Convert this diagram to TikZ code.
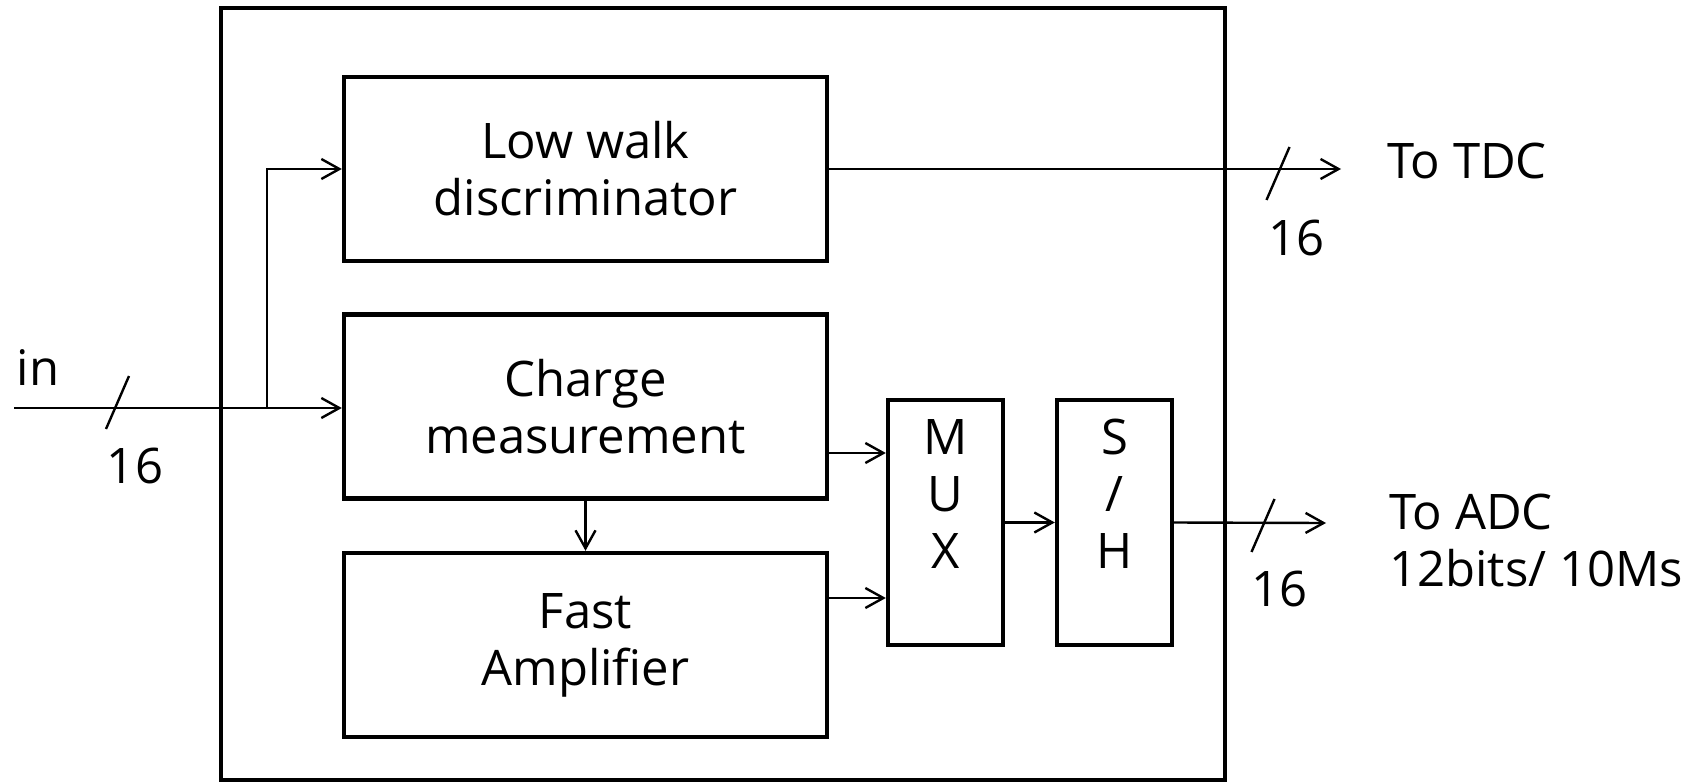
\documentclass[tikz,border=0pt]{standalone}
\usepackage{fontspec}
\setmainfont{Open Sans}
\usetikzlibrary{arrows.meta}
\begin{document}
\begin{tikzpicture}
  [x=0.5pt,y=-0.5pt,line width=1.2pt,>={Straight Barb[length=9pt,width=10pt]},
   every node/.style={inner sep=0pt,font=\fontsize{24.5}{28.5}\selectfont},
   block/.style={draw,line width=2.2pt,minimum width=241.5pt,minimum height=92pt,align=center},
   tall/.style={block,minimum width=57.5pt,minimum height=122.5pt}]
  \useasboundingbox (0,0) rectangle (1690,781);

  \node[block,minimum width=502pt,minimum height=386pt] (chip) at (723,394) {};
  \node[block] (lwd) at (585.5,169) {Low walk\\discriminator};
  \node[block] (qm) at (585.5,406.5) {Charge\\measurement};
  \node[block] (amp) at (585.5,645) {Fast\\Amplifier};
  \node[tall] (mux) at (945.5,522.5) {M\\U\\X\\\mbox{}};
  \node[tall] (sh) at (1114.5,522.5) {S\\/\\H\\\mbox{}};

  \coordinate (in) at (14,408);
  \coordinate (split) at (267,408);
  \coordinate (tdc) at (1341,169);
  \coordinate (adc) at (1326,523);
  \coordinate (m1) at (888,453);
  \coordinate (m2) at (888,598);

  \draw[->] (in) -- (in -| qm.west);
  \draw[->] (split) |- (lwd.west);
  \draw[->] (lwd.east) -- (tdc);
  \draw[->] (qm.east |- m1) -- (m1 -| mux.west);
  \draw[->] (amp.east |- m2) -- (m2 -| mux.west);
  \draw[->] (qm.south) -- (amp.north);
  \draw[->] (mux) -- (sh);
  \draw[->] (sh.east) -- (adc);

  \foreach \sx/\sy in {117.5/402.5, 1278/173.5, 1263/525.5}
    \draw (\sx-11.5,\sy+26.5) -- (\sx+11.5,\sy-26.5);

  \node (inlbl) at (38,368) {in};
  \node (w1) at (135,466) {16};
  \node (w2) at (1296,238) {16};
  \node (w3) at (1279,589) {16};
  \node[anchor=west] (tdclbl) at (1386,161) {To TDC};
  \node[anchor=west,align=left] (adclbl) at (1388,540) {To ADC\\12bits/ 10Ms};
\end{tikzpicture}
\end{document}
